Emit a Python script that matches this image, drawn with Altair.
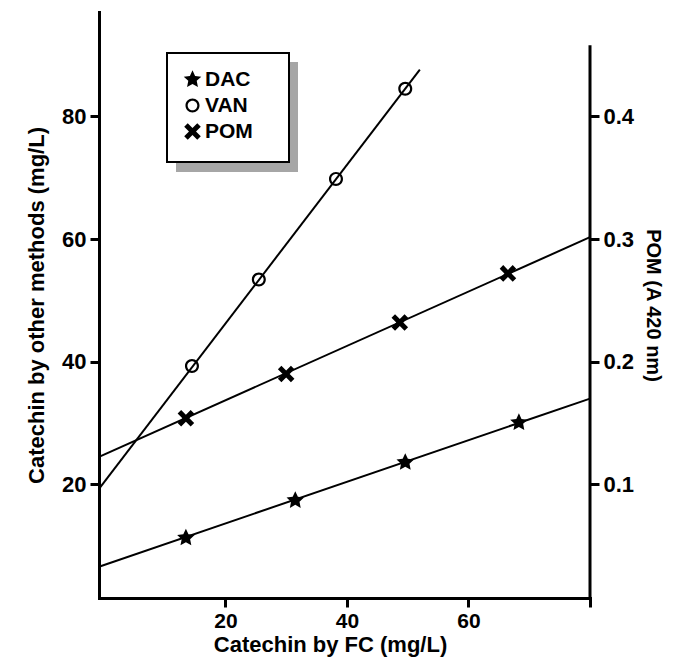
import math
import altair as alt
import pandas as pd

# ---------------- data ----------------
series = ["DAC", "VAN", "POM"]

fc_dac = [13.5, 31.5, 49.6, 68.3]
dac = [11.3, 17.4, 23.6, 30.1]

fc_van = [14.5, 25.5, 38.2, 49.6]
van = [39.3, 53.4, 69.8, 84.5]

fc_pom = [13.5, 30.0, 48.7, 66.5]
pom = [0.154, 0.190, 0.232, 0.272]  # right axis (A 420 nm)

# fitted straight lines as drawn (start / end of each line)
fit_fc_start = [-0.8, -0.8, -0.8]
fit_fc_end = [80.0, 52.0, 80.0]
fit_val_start = [6.6, 19.3, 0.1225]
fit_val_end = [34.0, 87.6, 0.3015]

x_ticks = [20, 40, 60, 80]
y_ticks = [20, 40, 60, 80]
pom_ticks = [0.1, 0.2, 0.3, 0.4]

x_domain = [-0.8, 80]
y_domain = [1.5, 97]
pom_domain = [y_domain[0] / 200, y_domain[1] / 200]
pom_axis_top = 0.458

# ---------------- tables ----------------
pts = pd.DataFrame(
    {"fc": fc_dac + fc_van, "value": dac + van, "series": ["DAC"] * 4 + ["VAN"] * 4}
)
pts_pom = pd.DataFrame({"fc": fc_pom, "value": pom, "series": ["POM"] * 4})

lines_left = pd.DataFrame(
    {
        "fc": [fit_fc_start[0], fit_fc_end[0], fit_fc_start[1], fit_fc_end[1]],
        "value": [fit_val_start[0], fit_val_end[0], fit_val_start[1], fit_val_end[1]],
        "series": ["DAC", "DAC", "VAN", "VAN"],
    }
)
lines_pom = pd.DataFrame(
    {"fc": [fit_fc_start[2], fit_fc_end[2]], "value": [fit_val_start[2], fit_val_end[2]], "series": ["POM", "POM"]}
)
rule_df = pd.DataFrame({"fc": [x_domain[1]], "value": [pom_domain[0]], "value2": [pom_axis_top]})

# ---------------- marker shapes (filled paths) ----------------
def fmt(p):
    return "%.3f,%.3f" % p

star_pts = []
for k in range(10):
    ang = -math.pi / 2 + k * math.pi / 5
    rr = 1.0 if k % 2 == 0 else 0.48
    star_pts.append((rr * math.cos(ang), rr * math.sin(ang)))
star_path = "M" + "L".join(fmt(p) for p in star_pts) + "Z"

a = 0.27
plus = [(-a, -1), (a, -1), (a, -a), (1, -a), (1, a), (a, a), (a, 1), (-a, 1), (-a, a), (-1, a), (-1, -a), (-a, -a)]
s2 = math.sqrt(2)
xs = [((x - y) / s2, (x + y) / s2) for x, y in plus]
x_path = "M" + "L".join(fmt(p) for p in xs) + "Z"

ro, ri = 0.76, 0.52
ring_path = (
    "M{o},0A{o},{o},0,1,1,-{o},0A{o},{o},0,1,1,{o},0Z"
    "M{i},0A{i},{i},0,1,0,-{i},0A{i},{i},0,1,0,{i},0Z"
).format(o=ro, i=ri)

shape_scale = alt.Scale(domain=series, range=[star_path, ring_path, x_path])

FONT = "Liberation Sans"
MSIZE = 340

X = alt.X(
    "fc:Q",
    scale=alt.Scale(domain=x_domain, nice=False, zero=False),
    axis=alt.Axis(
        values=x_ticks,
        labelExpr="datum.value == 80 ? '' : datum.label",
        labelFontSize=21,
        labelPadding=3,
        title="Catechin by FC (mg/L)",
        titleFontSize=22,
        titleX=231,
        titlePadding=3,
    ),
)

Y_left = alt.Y(
    "value:Q",
    scale=alt.Scale(domain=y_domain, nice=False, zero=False),
    axis=alt.Axis(
        values=y_ticks,
        orient="left",
        title="Catechin by other methods (mg/L)",
        titleFontSize=22,
        titlePadding=13,
    ),
)
Y_right = alt.Y(
    "value:Q",
    scale=alt.Scale(domain=pom_domain, nice=False, zero=False),
    axis=alt.Axis(
        values=pom_ticks,
        orient="right",
        format=".1f",
        domain=False,
        title="POM (A 420 nm)",
        titleFontSize=20,
        titlePadding=9,
    ),
)
Y2_right = alt.Y2("value2:Q")

legend = alt.Legend(title=None)

point_kw = dict(filled=True, size=MSIZE, color="black", strokeWidth=0, opacity=1)

left_lines = alt.Chart(lines_left).mark_line(color="black", strokeWidth=2).encode(
    x=X, y=Y_left, detail="series:N"
)
left_pts = alt.Chart(pts).mark_point(**point_kw).encode(
    x=X,
    y=Y_left,
    shape=alt.Shape("series:N", scale=shape_scale, legend=legend),
)
left = alt.layer(left_lines, left_pts)

right_lines = alt.Chart(lines_pom).mark_line(color="black", strokeWidth=2).encode(
    x=X, y=Y_right, detail="series:N"
)
right_pts = alt.Chart(pts_pom).mark_point(**point_kw).encode(
    x=X,
    y=Y_right,
    shape=alt.Shape("series:N", scale=shape_scale, legend=legend),
)
right_rule = alt.Chart(rule_df).mark_rule(color="black", strokeWidth=3).encode(
    x=X, y=Y_right, y2=Y2_right
)
right = alt.layer(right_lines, right_pts, right_rule)

one = pd.DataFrame({"k": [0]})
shadow = alt.Chart(one).mark_rect(fill="#a6a6a6").encode(
    x=alt.value(77), x2=alt.value(199), y=alt.value(50), y2=alt.value(160)
)
box = alt.Chart(one).mark_rect(fill="white", stroke="black", strokeWidth=2).encode(
    x=alt.value(68), x2=alt.value(190), y=alt.value(41), y2=alt.value(150)
)

chart = (
    alt.layer(shadow, box, left, right)
    .resolve_scale(y="independent")
    .properties(
        width=491,
        height=586,
        padding={"left": 91, "top": 4, "right": 79, "bottom": 61},
        autosize=alt.AutoSizeParams(type="none"),
        background="white",
    )
    .configure_view(stroke=None)
    .configure_axis(
        grid=False,
        domainColor="black",
        domainWidth=3,
        domainCap="square",
        tickColor="black",
        tickWidth=3,
        tickSize=9,
        labelFont=FONT,
        labelFontSize=22,
        labelFontWeight="bold",
        labelColor="black",
        labelPadding=4,
        titleFont=FONT,
        titleFontWeight="bold",
        titleColor="black",
    )
    .configure_legend(
        orient="none",
        legendX=83,
        legendY=57,
        padding=0,
        labelFont=FONT,
        labelFontSize=21,
        labelFontWeight="bold",
        labelColor="black",
        labelOffset=2,
        symbolSize=MSIZE,
        symbolStrokeWidth=0,
        symbolFillColor="black",
        rowPadding=4,
    )
)

chart.save("out.html", embed_options={"renderer": "svg", "actions": False})
